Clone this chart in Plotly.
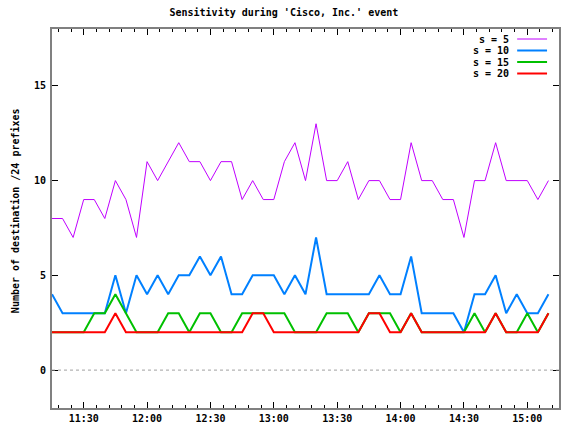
import pandas as pd
import plotly.graph_objects as go

# ---- data ----
start_time = "2000-01-01 11:15"
step_minutes = 5
s5 = [8, 8, 7, 9, 9, 8, 10, 9, 7, 11, 10, 11, 12, 11, 11, 10, 11, 11, 9, 10, 9, 9, 11, 12,
      10, 13, 10, 10, 11, 9, 10, 10, 9, 9, 12, 10, 10, 9, 9, 7, 10, 10, 12, 10, 10, 10, 9, 10]
s10 = [4, 3, 3, 3, 3, 3, 5, 3, 5, 4, 5, 4, 5, 5, 6, 5, 6, 4, 4, 5, 5, 5, 4, 5,
       4, 7, 4, 4, 4, 4, 4, 5, 4, 4, 6, 3, 3, 3, 3, 2, 4, 4, 5, 3, 4, 3, 3, 4]
s15 = [2, 2, 2, 2, 3, 3, 4, 3, 2, 2, 2, 3, 3, 2, 3, 3, 2, 2, 3, 3, 3, 3, 3, 2,
       2, 2, 3, 3, 3, 2, 3, 3, 3, 2, 3, 2, 2, 2, 2, 2, 3, 2, 3, 2, 2, 3, 2, 3]
s20 = [2, 2, 2, 2, 2, 2, 3, 2, 2, 2, 2, 2, 2, 2, 2, 2, 2, 2, 2, 3, 3, 2, 2, 2,
       2, 2, 2, 2, 2, 2, 3, 3, 2, 2, 3, 2, 2, 2, 2, 2, 2, 2, 3, 2, 2, 2, 2, 3]
series_names = ["s = 5", "s = 10", "s = 15", "s = 20"]
y_ticks = [0, 5, 10, 15]

times = pd.date_range(start_time, periods=len(s5), freq=f"{step_minutes}min")

colors = ["#c000ff", "#0080ff", "#00c000", "#ff0000"]
widths = [1, 2, 2, 2]
FONT = "DejaVu Sans Mono"

fig = go.Figure()
for name, vals, c, w in zip(series_names, [s5, s10, s15, s20], colors, widths):
    fig.add_trace(go.Scatter(x=times, y=vals, mode="lines", name=name,
                             line=dict(color=c, width=w), showlegend=False,
                             hoverinfo="skip"))

W, H = 561, 426
ml, mr, mt, mb = 52, 0, 29, 18
pw, ph = W - ml - mr, H - mt - mb


def px_x(x):
    return (x - ml) / pw


def px_y(y):
    return (H - mb - y) / ph


# zero reference line (dotted)
fig.add_shape(type="line", xref="paper", x0=0, x1=1, yref="y", y0=0, y1=0,
              line=dict(color="#a0a0a0", width=1, dash="dot"))

# custom legend (text right, sample on right like gnuplot)
leg_rows = [39, 50.5, 62, 73.5]
for name, c, w, yy in zip(series_names, colors, widths, leg_rows):
    fig.add_annotation(text=name, xref="paper", yref="paper", x=px_x(513), y=px_y(yy),
                       xanchor="right", yanchor="middle", showarrow=False,
                       font=dict(family=FONT, size=10, color="black", weight="bold"))
    fig.add_shape(type="line", xref="paper", yref="paper", x0=px_x(519), x1=px_x(549),
                  y0=px_y(yy), y1=px_y(yy), line=dict(color=c, width=w))

fig.add_annotation(text="Number of destination /24 prefixes", xref="paper", yref="paper",
                   x=px_x(15), y=px_y(211), textangle=-90, showarrow=False,
                   xanchor="center", yanchor="middle",
                   font=dict(family=FONT, size=10, color="black", weight="bold"))

fig.update_layout(
    width=W, height=H,
    margin=dict(l=ml, r=mr, t=mt, b=mb),
    paper_bgcolor="white", plot_bgcolor="white",
    title=dict(text="Sensitivity during 'Cisco, Inc.' event", x=0.506, xref="container",
               y=1 - 12 / H, yref="container", xanchor="center", yanchor="middle",
               font=dict(family=FONT, size=10, color="black", weight="bold")),
    font=dict(family=FONT, size=10, color="black", weight="bold"),
    hovermode=False,
)
fig.update_xaxes(
    type="date", range=["2000-01-01 11:15", "2000-01-01 15:15"],
    tick0="2000-01-01 11:30", dtick=30 * 60 * 1000, tickformat="%H:%M",
    ticks="inside", ticklen=6, tickcolor="black", tickwidth=1,
    minor=dict(dtick=6 * 60 * 1000, tick0="2000-01-01 11:30", ticks="inside", ticklen=3,
               tickcolor="black", tickwidth=1, showgrid=False),
    showline=True, linecolor="#808080", linewidth=2, mirror="ticks",
    showgrid=False, zeroline=False,
    tickfont=dict(family=FONT, size=10, color="black", weight="bold"),
)
fig.update_yaxes(
    range=[-2, 18], tickvals=y_ticks, ticks="inside", ticklen=6, tickcolor="black", tickwidth=1,
    showline=True, linecolor="#808080", linewidth=2, mirror="ticks",
    showgrid=False, zeroline=False, ticklabelstandoff=2,
    tickfont=dict(family=FONT, size=10, color="black", weight="bold"),
)

fig.write_html("out.html", config={"displayModeBar": False, "staticPlot": True},
               post_script="document.body.style.margin='0';document.body.style.overflow='hidden';")
